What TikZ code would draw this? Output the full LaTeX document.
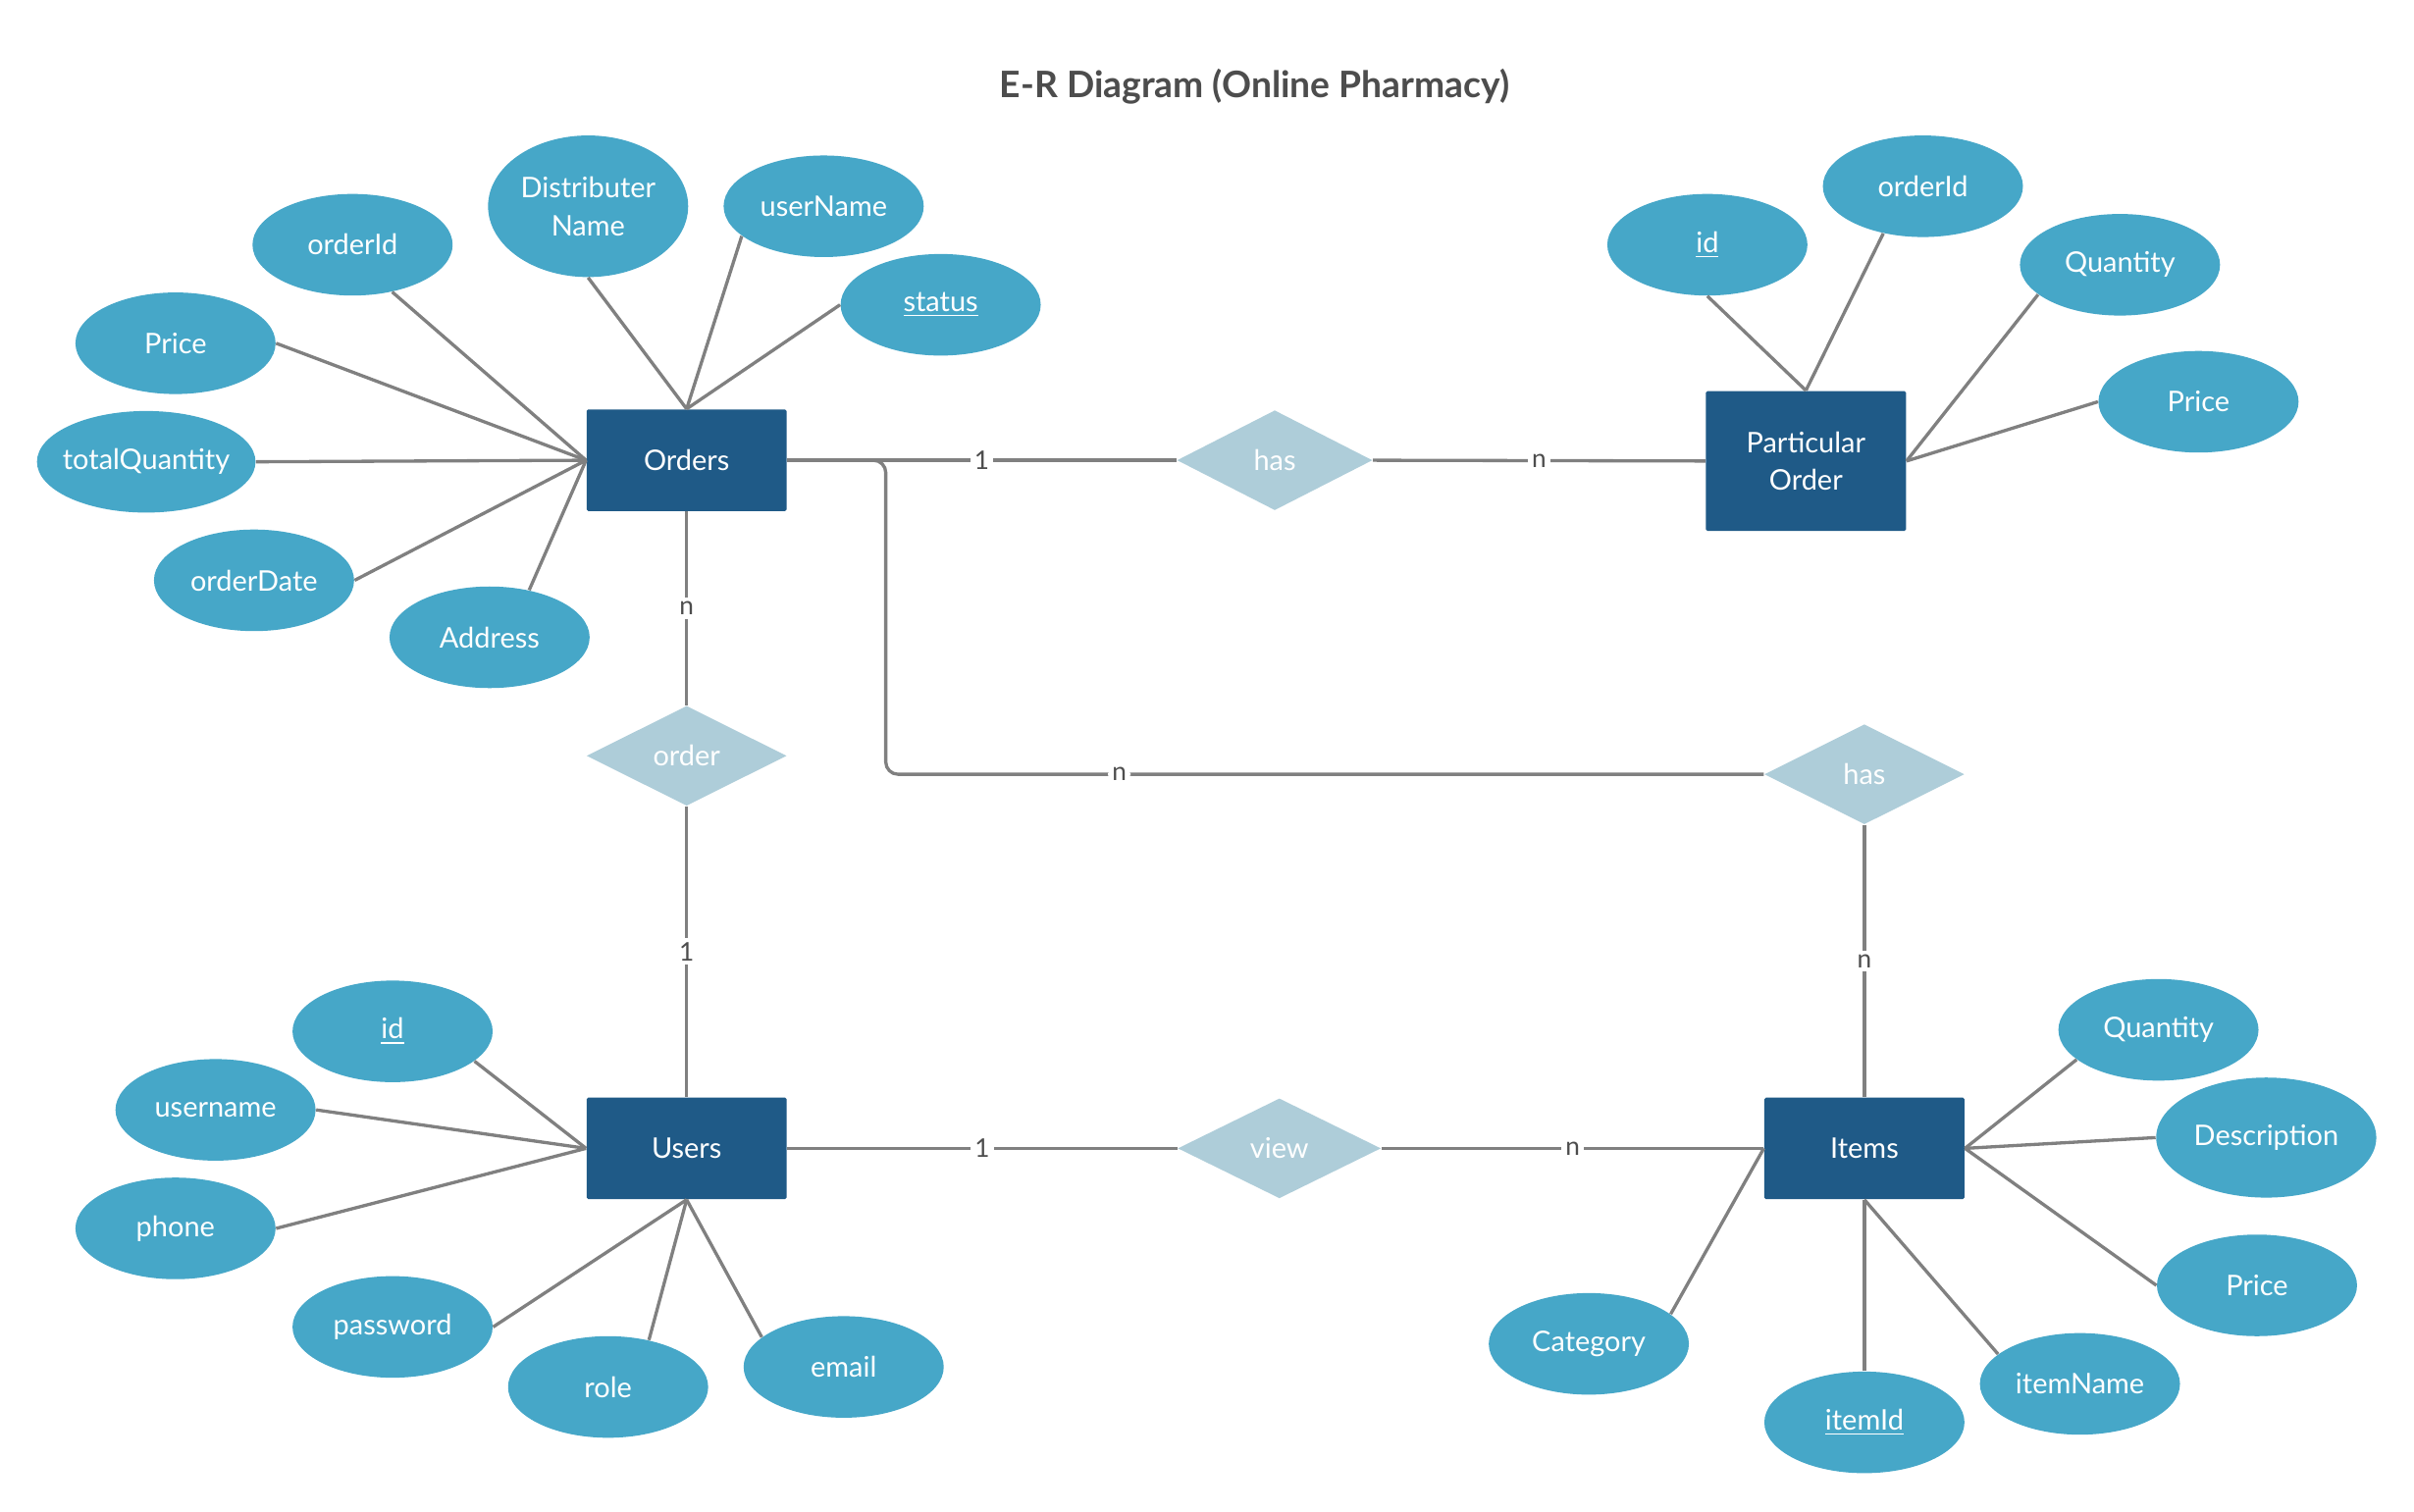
\documentclass[tikz,border=0pt]{standalone}
\usepackage{fontspec}
\setmainfont{Lato}
\usetikzlibrary{shapes.geometric}

\definecolor{entblue}{HTML}{1F5A87}
\definecolor{attblue}{HTML}{46A7C8}
\definecolor{relblue}{HTML}{AECDD9}
\definecolor{linegray}{HTML}{808080}
\definecolor{textgray}{HTML}{4D4D4D}

\begin{document}
\begin{tikzpicture}[x=0.02cm, y=-0.02cm,
  entity/.style={rectangle, rounded corners=0.6pt, fill=entblue, text=white, align=center,
    minimum width=2.6cm, minimum height=1.32cm, font=\fontsize{10.5}{14}\selectfont},
  attr/.style={ellipse, fill=attblue, text=white, align=center, inner sep=0pt,
    minimum width=2.6cm, minimum height=1.32cm, font=\fontsize{10.5}{14}\selectfont},
  rel/.style={diamond, fill=relblue, text=white, inner sep=0pt,
    minimum width=2.6cm, minimum height=1.3cm, font=\fontsize{10.5}{14}\selectfont},
  link/.style={draw=linegray, line width=1.2pt},
  card/.style={fill=white, text=textgray, inner sep=1.5pt, font=\fontsize{9.5}{11}\selectfont}]
\useasboundingbox[fill=white] (0,0) rectangle (1568,982);

\node[text=textgray, font=\fontsize{13.5}{16}\selectfont\bfseries] (title) at (815,56) {E-R Diagram (Online Pharmacy)};

%%%%%%%%%%%%%%%%%%%%%%%%%%%%%%%%%%%%%%%%

\node[entity] (ord) at (446,299) {Orders};
\node[entity, minimum height=1.82cm] (po) at (1173,299.5) {Particular\\Order};
\node[entity] (usr) at (446,746) {Users};
\node[entity] (itm) at (1211,746) {Items};

\node[rel, minimum width=2.54cm] (has1) at (828,299) {has};
\node[rel] (order) at (446,491) {order};
\node[rel] (has2) at (1211,503) {has};
\node[rel, minimum width=2.64cm] (view) at (831,746) {view};

%%%%%%%%%%%%%%%%%%%%%%%%%%%%%%%%%%%%%%%%

\node[attr] (ooid) at (229,159) {orderId};
\node[attr] (oprice) at (114,223) {Price};
\node[attr, inner xsep=-0.1cm, minimum width=2.84cm] (oqty) at (95,300) {totalQuantity};
\node[attr] (odate) at (165,377) {orderDate};
\node[attr] (oaddr) at (318,414) {Address};
\node[attr, minimum height=1.84cm] (odist) at (382,134) {Distributer\\Name};
\node[attr] (ouser) at (535,134) {userName};
\node[attr] (ostat) at (611,198) {\underline{status}};

\draw[link] (ooid.-50) -- (ord.west);
\draw[link] (oprice.east) -- (ord.west);
\draw[link] (oqty.east) -- (ord.west);
\draw[link] (odate.east) -- (ord.west);
\draw[link] (oaddr.50) -- (ord.west);
\draw[link] (odist.south) -- (ord.north);
\draw[link] (ouser.200) -- (ord.north);
\draw[link] (ostat.west) -- (ord.north);

\node[attr] (pid) at (1109,159) {\underline{id}};
\node[attr] (poid) at (1249,121) {orderId};
\node[attr] (pqty) at (1377,172) {Quantity};
\node[attr] (pprice) at (1428,261) {Price};

\draw[link] (pid.south) -- (po.north);
\draw[link] (poid.230) -- (po.north);
\draw[link] (pqty.200) -- (po.east);
\draw[link] (pprice.west) -- (po.east);

\node[attr] (uid) at (255,670) {\underline{id}};
\node[attr] (uname) at (140,721) {username};
\node[attr] (uphone) at (114,798) {phone};
\node[attr] (upass) at (255,862) {password};
\node[attr] (urole) at (395,901) {role};
\node[attr] (umail) at (548,888) {email};

\draw[link] (uid.-20) -- (usr.west);
\draw[link] (uname.east) -- (usr.west);
\draw[link] (uphone.east) -- (usr.west);
\draw[link] (upass.east) -- (usr.south);
\draw[link] (urole.49) -- (usr.south);
\draw[link] (umail.160) -- (usr.south);

\node[attr] (iqty) at (1402,669) {Quantity};
\node[attr, minimum width=2.86cm, minimum height=1.56cm] (idesc) at (1472,739) {Description};
\node[attr] (iprice) at (1466,835) {Price};
\node[attr] (iname) at (1351,899) {itemName};
\node[attr] (iid) at (1211,924) {\underline{itemId}};
\node[attr] (icat) at (1032,873) {Category};

\draw[link] (iqty.200) -- (itm.east);
\draw[link] (idesc.west) -- (itm.east);
\draw[link] (iprice.west) -- (itm.east);
\draw[link] (iname.160) -- (itm.south);
\draw[link] (iid.north) -- (itm.south);
\draw[link] (icat.20) -- (itm.west);

%%%%%%%%%%%%%%%%%%%%%%%%%%%%%%%%%%%%%%%%

\draw[link] (ord.east) -- (has1.west) node[card, pos=0.5]{1};
\draw[link] (has1.east) -- (po.west) node[card, pos=0.5]{n};
\draw[link] (ord.south) -- (order.north) node[card, pos=0.5]{n};
\draw[link] (order.south) -- (usr.north) node[card, pos=0.5]{1};
\draw[link] (usr.east) -- (view.west) node[card, pos=0.5]{1};
\draw[link] (view.east) -- (itm.west) node[card, pos=0.5]{n};
\draw[link, rounded corners=0.16cm] (ord.east) -- ++(64,0) |- (has2.west) node[card, pos=0.633]{n};
\draw[link] (has2.south) -- (itm.north) node[card, pos=0.5]{n};

\end{tikzpicture}
\end{document}
